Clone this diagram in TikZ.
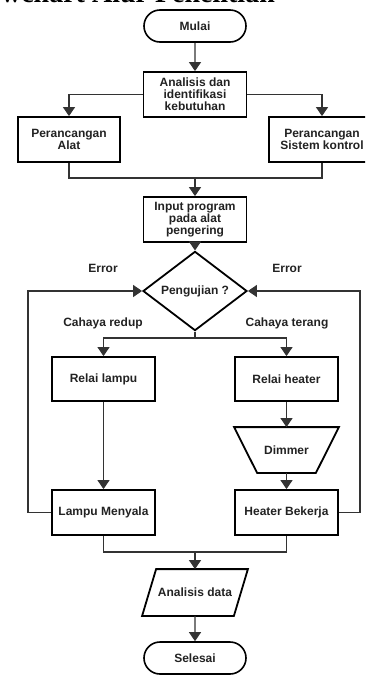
\documentclass[tikz,border=0pt]{standalone}
\usepackage{fontspec}
\setmainfont{Liberation Sans}
\newfontfamily\titlefont{Liberation Serif}
\usetikzlibrary{shapes.geometric,shapes.misc,arrows.meta,calc}
\definecolor{txt}{HTML}{222222}
\definecolor{linec}{HTML}{333333}
\begin{document}
\begin{tikzpicture}[x=1pt,y=-1pt,
  base/.style={draw=black, line width=1.8pt, align=center, text=txt, inner sep=1pt,
    font=\bfseries\fontsize{12}{12}\selectfont},
  box/.style={base, rectangle, minimum width=103pt, minimum height=45pt},
  term/.style={base, line width=1.6pt, rounded rectangle, minimum width=104pt, minimum height=32pt},
  dia/.style={base, diamond, minimum width=104pt, minimum height=62pt, inner sep=0pt},
  ghost/.style={base, draw=none, rectangle},
  outline/.style={draw=black, line width=1.8pt, line join=miter},
  conn/.style={line width=1.1pt, draw=linec},
  arr/.style={conn, -{Triangle[length=9pt,width=12pt]}},
  lbl/.style={text=txt, font=\bfseries\fontsize{12}{12}\selectfont, inner sep=0pt}
]
\useasboundingbox (0,0) rectangle (365,675);
\clip (0,0) rectangle (365,675);

\node[anchor=base east, inner sep=0pt, font=\titlefont\bfseries\fontsize{28}{30}\selectfont] (title) at (275,2.8) {Flowchart Alur Penelitian};

\node[term] (mulai) at (195,26) {Mulai};
\node[box] (anal) at (195,94.5) {Analisis dan\\identifikasi\\kebutuhan};
\node[box, minimum width=102pt] (alat) at (69,139.5) {Perancangan\\Alat};
\node[box, minimum width=106pt] (sist) at (322,139.5) {Perancangan\\Sistem kontrol};
\node[box] (input) at (195,219.5) {Input program\\pada alat\\pengering};
\node[dia] (uji) at (195,291) {Pengujian ?};
\node[box, minimum height=44pt] (rlampu) at (103.5,379) {Relai lampu};
\node[box, minimum height=44pt] (rheat) at (286.5,379) {Relai heater};
\node[ghost, minimum width=103pt, minimum height=44pt] (dim) at (286.5,450) {Dimmer};
\draw[outline] (dim.north west) -- (dim.north east) -- ($(dim.south east)+(-23,0)$)
  -- ($(dim.south west)+(23,0)$) -- cycle;
\node[box] (lampu) at (103.5,512.5) {Lampu Menyala};
\node[box] (heat) at (286.5,512.5) {Heater Bekerja};
\node[ghost, minimum width=104pt, minimum height=45pt] (data) at (195,592.5) {Analisis data};
\draw[outline] (data.south west) -- ($(data.south east)+(-14,0)$) -- (data.north east)
  -- ($(data.north west)+(14,0)$) -- cycle;
\node[term] (sel) at (195,658) {Selesai};

\node[lbl] (err1) at (103,268) {Error};
\node[lbl] (err2) at (287,268) {Error};
\node[lbl] (redup) at (103,323) {Cahaya redup};
\node[lbl] (terang) at (287,323) {Cahaya terang};

\coordinate (j1) at (195,178);
\coordinate (j2) at (195,338);
\coordinate (j3) at (195,552);
\coordinate (lloop) at (28,0);
\coordinate (rloop) at (360,0);

\draw[arr] (mulai) -- (anal);
\draw[arr] (anal.west) -| (alat.north);
\draw[arr] (anal.east) -| (sist.north);
\draw[conn] (alat.south) |- (j1) -| (sist.south);
\draw[arr] (j1) -- (input);
\draw[arr] (input) -- (uji);
\draw[conn] (uji.south) -- (j2);
\draw[arr] (j2) -| (rlampu.north);
\draw[arr] (j2) -| (rheat.north);
\draw[arr] (rlampu) -- (lampu);
\draw[arr] (rheat) -- (dim.north);
\draw[arr] (dim.south) -- (heat);
\draw[arr] (lampu.west) -| (lloop |- uji.west) -- (uji.west);
\draw[arr] (heat.east) -| (rloop |- uji.east) -- (uji.east);
\draw[conn] (lampu.south) |- (j3) -| (heat.south);
\draw[arr] (j3) -- (data.north);
\draw[arr] (data.south) -- (sel);
\end{tikzpicture}
\end{document}
